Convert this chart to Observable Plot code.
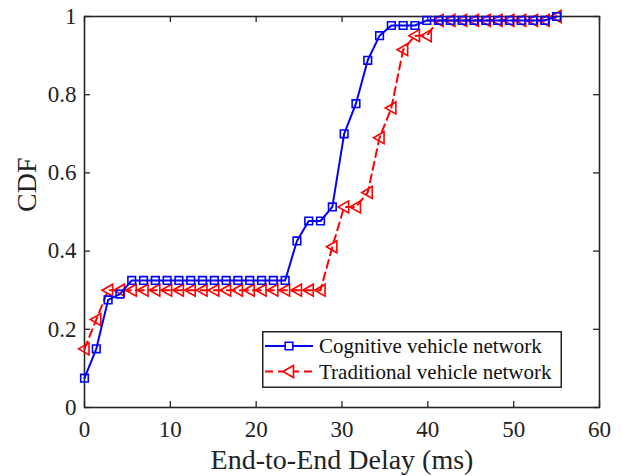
<!DOCTYPE html>
<html>
<head>
<meta charset="utf-8">
<script src="https://cdn.jsdelivr.net/npm/d3@7"></script>
<script src="https://cdn.jsdelivr.net/npm/@observablehq/plot@0.6"></script>
<style>
  body { margin: 0; background: #fff; }
  #wrap { position: relative; width: 621px; height: 476px; font-family: "Liberation Serif", "Times New Roman", serif; }
  #wrap svg text { font-family: "Liberation Serif", "Times New Roman", serif !important; font-variant: normal !important; }
  #legend { position: absolute; left: 262px; top: 331px; }
</style>
</head>
<body>
<div id="wrap"></div>
<script>
const delay = [0, 1.375, 2.75, 4.125, 5.5, 6.875, 8.25, 9.625, 11, 12.375, 13.75, 15.125, 16.5, 17.875, 19.25, 20.625, 22, 23.375, 24.75, 26.125, 27.5, 28.875, 30.25, 31.625, 33, 34.375, 35.75, 37.125, 38.5, 39.875, 41.25, 42.625, 44, 45.375, 46.75, 48.125, 49.5, 50.875, 52.25, 53.625, 55];
const cognitive = [0.075, 0.15, 0.275, 0.29, 0.325, 0.325, 0.325, 0.325, 0.325, 0.325, 0.325, 0.325, 0.325, 0.325, 0.325, 0.325, 0.325, 0.325, 0.426, 0.477, 0.477, 0.513, 0.70, 0.777, 0.888, 0.951, 0.977, 0.977, 0.977, 0.99, 0.99, 0.99, 0.99, 0.99, 0.99, 0.99, 0.99, 0.99, 0.99, 0.99, 1.0];
const traditional = [0.15, 0.225, 0.30, 0.30, 0.30, 0.30, 0.30, 0.30, 0.30, 0.30, 0.30, 0.30, 0.30, 0.30, 0.30, 0.30, 0.30, 0.30, 0.30, 0.30, 0.30, 0.411, 0.513, 0.513, 0.55, 0.69, 0.766, 0.915, 0.951, 0.951, 0.99, 0.99, 0.99, 0.99, 0.99, 0.99, 0.99, 0.99, 0.99, 0.99, 1.0];
const seriesNames = ["Cognitive vehicle network", "Traditional vehicle network"];
const xTicks = [0, 10, 20, 30, 40, 50, 60];
const yTicks = [0, 0.2, 0.4, 0.6, 0.8, 1];
const xLabel = "End-to-End Delay (ms)";
const yLabel = "CDF";

const blueData = delay.map((d, i) => ({x: d, y: cognitive[i]}));
const redData = delay.map((d, i) => ({x: d, y: traditional[i]}));

const W = 621, H = 476, mL = 84, mR = 22, mT = 16, mB = 69;
const plotW = W - mL - mR, plotH = H - mT - mB;
const tickLen = 6;
const axisColor = "#262626";
const serif = "Liberation Serif, Times New Roman, serif";

const leftTriangle = {
  draw(context, size) {
    const r = Math.sqrt(size / Math.PI);
    context.moveTo(-r, 0);
    context.lineTo(r * 0.75, -r);
    context.lineTo(r * 0.75, r);
    context.closePath();
  }
};

const chart = Plot.plot({
  width: W, height: H,
  marginLeft: mL, marginRight: mR, marginTop: mT, marginBottom: mB,
  style: {fontFamily: serif, fontSize: "23px", color: "#000", background: "#fff"},
  x: {domain: [0, 60], ticks: xTicks, label: null},
  y: {domain: [0, 1], ticks: yTicks, label: null},
  marks: [
    Plot.axisX(xTicks, {tickSize: 0, tickPadding: 13, fontSize: 23, fontFamily: serif, label: null, tickFormat: d => String(d), fill: "#222"}),
    Plot.axisY(yTicks, {tickSize: 0, tickPadding: 8, fontSize: 23, fontFamily: serif, label: null, tickFormat: d => String(d), fill: "#222"}),
    Plot.tickX(xTicks, {x: d => d, insetTop: plotH - tickLen, stroke: axisColor, strokeWidth: 1.3}),
    Plot.tickX(xTicks, {x: d => d, insetBottom: plotH - tickLen, stroke: axisColor, strokeWidth: 1.3}),
    Plot.tickY(yTicks, {y: d => d, insetRight: plotW - tickLen, stroke: axisColor, strokeWidth: 1.3}),
    Plot.tickY(yTicks, {y: d => d, insetLeft: plotW - tickLen, stroke: axisColor, strokeWidth: 1.3}),
    Plot.frame({stroke: axisColor, strokeWidth: 1.6}),
    Plot.line(redData, {x: "x", y: "y", stroke: "#ff0000", strokeWidth: 2, strokeDasharray: "8,5"}),
    Plot.dot(redData, {x: "x", y: "y", symbol: leftTriangle, r: 6, stroke: "#ff0000", strokeWidth: 1.6, fill: "none"}),
    Plot.line(blueData, {x: "x", y: "y", stroke: "#0000ff", strokeWidth: 2}),
    Plot.dot(blueData, {x: "x", y: "y", symbol: "square", r: 4.3, stroke: "#0000ff", strokeWidth: 1.6, fill: "none"}),
    Plot.text([xLabel], {frameAnchor: "bottom", dy: 61, fontSize: 28, fontFamily: serif, fill: "#222"}),
    Plot.text([yLabel], {frameAnchor: "left", dx: -57, rotate: -90, fontSize: 28, fontFamily: serif, fill: "#222"})
  ]
});
document.getElementById("wrap").appendChild(chart);

// Legend
const lw = 300, lh = 57;
const legend = d3.select("#wrap").append("svg")
  .attr("id", "legend").attr("width", lw).attr("height", lh)
  .style("font-family", serif);
legend.append("rect").attr("x", 0.75).attr("y", 0.75).attr("width", lw - 1.5).attr("height", lh - 1.5)
  .attr("fill", "#fff").attr("stroke", axisColor).attr("stroke-width", 1.5);
const entries = [
  {name: seriesNames[0], color: "#0000ff", dash: null, symbol: d3.symbolSquare, size: 4.3 * 4.3 * Math.PI},
  {name: seriesNames[1], color: "#ff0000", dash: "8,5", symbol: leftTriangle, size: 36 * Math.PI}
];
entries.forEach((e, i) => {
  const cy = 15 + i * 25.5;
  legend.append("line").attr("x1", 3).attr("x2", 51).attr("y1", cy).attr("y2", cy)
    .attr("stroke", e.color).attr("stroke-width", 2).attr("stroke-dasharray", e.dash);
  legend.append("path").attr("d", d3.symbol(e.symbol, e.size)()).attr("transform", `translate(27,${cy})`)
    .attr("fill", "#fff").attr("stroke", e.color).attr("stroke-width", 1.6);
  legend.append("text").attr("x", 57).attr("y", cy).attr("dy", "0.35em")
    .attr("font-size", 21).attr("fill", "#111").text(e.name);
});
</script>
</body>
</html>
